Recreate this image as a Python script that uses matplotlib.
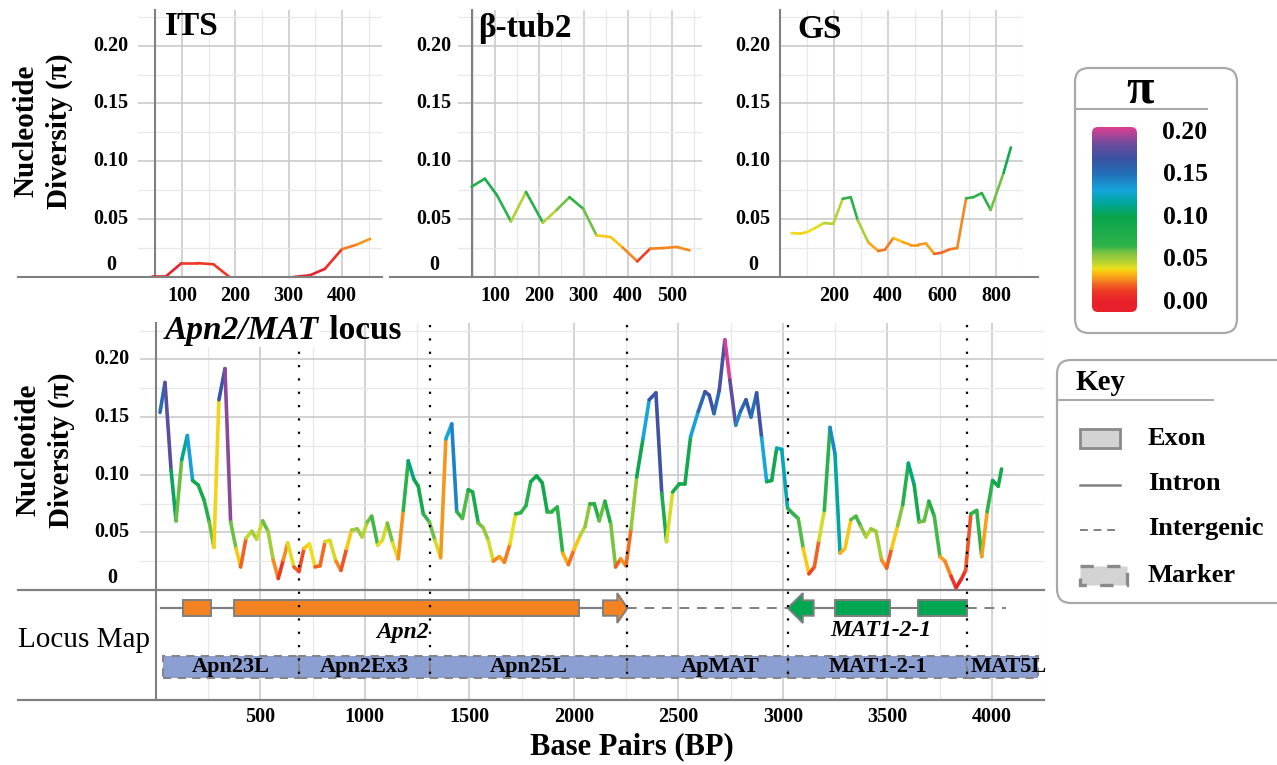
import numpy as np
import matplotlib
matplotlib.use("Agg")
import matplotlib.pyplot as plt
import matplotlib.transforms as mtrans
from matplotlib.collections import LineCollection
from matplotlib.colors import LinearSegmentedColormap, Normalize
from matplotlib.patches import Rectangle, FancyBboxPatch, Polygon
from matplotlib.lines import Line2D

plt.rcParams['font.family'] = ['Liberation Serif', 'DejaVu Serif']

# ---------------- data ----------------
its_bp = [43, 71, 99, 128, 159, 189, 219, 249, 279, 309, 340, 368, 400, 428, 453]
its_pi = [0.001, 0.001, 0.012, 0.012, 0.011, 0.0, 0.0, 0.0, 0.0, 0.0, 0.0015, 0.007, 0.024, 0.028, 0.033]

btub_bp = [47, 77, 104, 136, 170, 208, 239, 268, 299, 329, 361, 388, 421, 450, 480, 510, 539]
btub_pi = [0.078, 0.085, 0.071, 0.048, 0.0735, 0.047, 0.058, 0.069, 0.059, 0.036, 0.0345,
           0.0255, 0.0135, 0.0245, 0.025, 0.026, 0.023]

gs_bp = [42, 73, 100, 128, 162, 196, 231, 261, 287, 326, 363, 388, 419, 456, 481, 512, 540,
         571, 598, 629, 656, 689, 716, 747, 780, 828, 855]
gs_pi = [0.038, 0.0374, 0.0389, 0.0423, 0.0466, 0.046, 0.0676, 0.069, 0.049, 0.030, 0.0225,
         0.0236, 0.0337, 0.030, 0.028, 0.028, 0.029, 0.020, 0.021, 0.024, 0.025, 0.068, 0.069,
         0.0725, 0.058, 0.090, 0.112]

main_bp = [20, 44, 73, 97, 124, 151, 176, 203, 231, 256, 278, 302, 331, 358, 384, 406, 432, 459,
           483, 511, 537, 562, 586, 610, 631, 661, 685, 709, 735, 762, 786, 810, 833, 862, 886,
           913, 937, 964, 987, 1012, 1033, 1062, 1084, 1108, 1133, 1160, 1184, 1208, 1235, 1256,
           1280, 1309, 1336, 1363, 1388, 1416,
           1440, 1467, 1495, 1516, 1543, 1567, 1591, 1615, 1644, 1668, 1695, 1722, 1746, 1771,
           1794, 1822, 1849, 1873, 1894, 1921, 1947, 1974, 2001, 2030, 2054, 2077, 2098, 2122,
           2149, 2177, 2200, 2224, 2250, 2274, 2301, 2331, 2361, 2393, 2421, 2444, 2473, 2505,
           2532, 2559, 2596, 2628, 2648, 2671, 2696, 2723, 2747, 2775, 2798, 2824,
           2848, 2875, 2899, 2923, 2947, 2971, 2995, 3023, 3050, 3074, 3098, 3125, 3151, 3173,
           3199, 3226, 3250, 3274, 3298, 3326, 3350, 3374, 3398, 3422, 3446, 3473, 3497, 3521,
           3550, 3574, 3601, 3629, 3652, 3677, 3699, 3725, 3752, 3776, 3805, 3829, 3853, 3875,
           3900, 3928, 3952, 3978, 4004, 4031, 4047]
main_pi = [0.154, 0.180, 0.104, 0.060, 0.113, 0.134, 0.095, 0.091, 0.078, 0.059, 0.037, 0.165,
           0.192, 0.059, 0.036, 0.020, 0.045, 0.051, 0.044, 0.060, 0.051, 0.026, 0.010, 0.026,
           0.041, 0.020, 0.016, 0.036, 0.040, 0.020, 0.021, 0.042, 0.043, 0.025, 0.017, 0.036,
           0.052, 0.053, 0.046, 0.059, 0.064, 0.039, 0.043, 0.058, 0.041, 0.027, 0.069, 0.112,
           0.096, 0.090, 0.066, 0.059, 0.043, 0.028, 0.131, 0.144,
           0.068, 0.062, 0.087, 0.085, 0.058, 0.054, 0.043, 0.025, 0.029, 0.024, 0.040, 0.066,
           0.067, 0.073, 0.094, 0.099, 0.093, 0.068, 0.068, 0.072, 0.032, 0.022, 0.035, 0.047,
           0.055, 0.075, 0.075, 0.060, 0.077, 0.057, 0.020, 0.027, 0.021, 0.053, 0.098, 0.131,
           0.165, 0.171, 0.084, 0.042, 0.085, 0.092, 0.092, 0.133, 0.155, 0.172, 0.169, 0.153,
           0.173, 0.217, 0.182, 0.143, 0.155, 0.165,
           0.150, 0.171, 0.132, 0.094, 0.095, 0.123, 0.122, 0.071, 0.066, 0.062, 0.036, 0.014,
           0.020, 0.043, 0.069, 0.141, 0.118, 0.032, 0.036, 0.061, 0.064, 0.055, 0.046, 0.053,
           0.051, 0.026, 0.019, 0.036, 0.056, 0.074, 0.110, 0.091, 0.059, 0.060, 0.077, 0.064,
           0.029, 0.025, 0.012, 0.002, 0.009, 0.017, 0.066, 0.069, 0.029, 0.068, 0.095, 0.090,
           0.105]

# locus map
apn2_span = (27, 2140)             # intron line
apn2_exons = [(132, 265), (373, 2027)]
apn2_arrow = (2140, 2208, 2257)    # body start, head base, tip
intergenic = [(2257, 3024), (3880, 4069)]
mat_span = (3148, 3880)
mat_exons = [(3252, 3515), (3645, 3880)]
mat_arrow = (3148, 3096, 3024)
markers = ['Apn23L', 'Apn2Ex3', 'Apn25L', 'ApMAT', 'MAT1-2-1', 'MAT5L']
marker_bounds = [35, 685, 1312, 2253, 3026, 3883, 4222]

y_ticks = [0, 0.05, 0.10, 0.15, 0.20]
y_tick_labels = ['0', '0.05', '0.10', '0.15', '0.20']
cbar_ticks = [0.0, 0.05, 0.10, 0.15, 0.20]
cbar_labels = ['0.00', '0.05', '0.10', '0.15', '0.20']

# ---------------- colour scale ----------------
cm_vals = [0.0, 0.012, 0.020, 0.027, 0.034, 0.039, 0.046, 0.055, 0.066, 0.100, 0.117, 0.132,
           0.150, 0.168, 0.186, 0.205]
cm_cols = ['#e8202a', '#ee3a24', '#f26522', '#f7941d', '#fcc010', '#efe01b', '#b8d433',
           '#8dc63f', '#2fb34a', '#0aa54e', '#00a79b', '#16a5dd', '#2272b9', '#3953a4',
           '#6a4c9c', '#d73f94']
VMAX = 0.205
cmap = LinearSegmentedColormap.from_list('pi', list(zip(np.array(cm_vals) / VMAX, cm_cols)))
norm = Normalize(0, VMAX)

# ---------------- figure ----------------
W, H = 1277, 765
fig = plt.figure(figsize=(W / 100, H / 100), dpi=100)
fig.patch.set_facecolor('white')


def add_ax(l, t, r, b, **kw):
    return fig.add_axes([l / W, 1 - b / H, (r - l) / W, (b - t) / H], **kw)


over = fig.add_axes([0, 0, 1, 1], zorder=10)
over.set_xlim(0, W)
over.set_ylim(H, 0)
over.axis('off')
over.patch.set_visible(False)

SP_COL = '#808080'
GRID_MAJ = '#cbcbcb'
GRID_MIN = '#e8e8e8'
BOLD = dict(fontweight='bold', color='black')


def draw_series(ax, x, y, lw):
    x = np.asarray(x, float)
    y = np.asarray(y, float)
    pts = np.column_stack([x, y])
    segs = np.stack([pts[:-1], pts[1:]], axis=1)
    lc = LineCollection(segs, colors=cmap(norm(y[:-1])), linewidths=lw,
                        capstyle='round', joinstyle='round', zorder=3)
    ax.add_collection(lc)


def style_axes(ax, spine_x, xmaj, xmin, ymaj, ymin):
    ax.set_xticks(xmaj)
    ax.set_xticks(xmin, minor=True)
    ax.set_yticks(ymaj)
    ax.set_yticks(ymin, minor=True)
    ax.tick_params(which='both', length=0, labelbottom=False, labelleft=False)
    ax.grid(which='major', color=GRID_MAJ, lw=1.2)
    ax.grid(which='minor', color=GRID_MIN, lw=0.9)
    ax.set_axisbelow(True)
    for s in ['top', 'right', 'bottom']:
        ax.spines[s].set_visible(False)
    ax.spines['left'].set_position(('data', spine_x))
    ax.spines['left'].set_color(SP_COL)
    ax.spines['left'].set_linewidth(1.5)


def ytick_text(ax, cx, zero_shift_px, fs):
    tr = mtrans.blended_transform_factory(over.transData, ax.transData)
    for v, lab in zip(y_ticks, y_tick_labels):
        t = tr
        if v == 0:
            t = tr + mtrans.ScaledTranslation(0, zero_shift_px / 100, fig.dpi_scale_trans)
        ax.text(cx, v, lab, transform=t, ha='center', va='center', fontsize=fs, **BOLD)


def xtick_text(ax, vals, py, fs):
    tr = mtrans.blended_transform_factory(ax.transData, over.transData)
    for v in vals:
        ax.text(v, py, str(v), transform=tr, ha='center', va='center', fontsize=fs, **BOLD)


TOP_YMAX = (277 - 10) / 1157.0
ymaj = [0.05, 0.10, 0.15, 0.20]
ymin_top = [0.025, 0.075, 0.125, 0.175, 0.225]

# ---- top panels ----
top_specs = [
    (138, 382, (17.4, 475.2), 49, [100, 200, 300, 400], [50, 150, 250, 350, 450], 111,
     'ITS', 165, 35, its_bp, its_pi, [100, 200, 300, 400]),
    (458, 702, (16.5, 567.0), 48, [100, 200, 300, 400, 500], [50, 150, 250, 350, 450, 550], 434,
     'β-tub2', 478, 37, btub_bp, btub_pi, [100, 200, 300, 400, 500]),
    (780.4, 1023, (0, 900), 0, [200, 400, 600, 800], [100, 300, 500, 700, 900], 753,
     'GS', 797, 38, gs_bp, gs_pi, [200, 400, 600, 800]),
]
for (l, r, xl, spx, xmj, xmn, ycx, title, tx, tb, xs, ys, xlabs) in top_specs:
    ax = add_ax(l, 10, r, 277)
    ax.set_xlim(*xl)
    ax.set_ylim(0, TOP_YMAX)
    style_axes(ax, spx, xmj, xmn, ymaj, ymin_top)
    draw_series(ax, xs, ys, 1.9)
    ytick_text(ax, ycx, 12, 14.5)
    xtick_text(ax, xlabs, 296, 14.5)
    over.text(tx, tb, title, ha='left', va='baseline', fontsize=24, **BOLD)

over.add_line(Line2D([18, 382], [277, 277], color=SP_COL, lw=1.5))
over.add_line(Line2D([390, 1038], [277, 277], color=SP_COL, lw=1.5))

# ---- main panel ----
MAIN_L, MAIN_R = 140, 1044
px_per_bp = 0.209
x0_px = 155.8
main_xlim = ((MAIN_L - x0_px) / px_per_bp, (MAIN_R - x0_px) / px_per_bp)
axm = add_ax(MAIN_L, 323, MAIN_R, 590)
axm.set_xlim(*main_xlim)
axm.set_ylim(0, (590 - 323) / 1153.0)
style_axes(axm, 0, np.arange(500, 4001, 500), np.arange(250, 4251, 500), ymaj,
           [0.025, 0.075, 0.125, 0.175, 0.225])
draw_series(axm, main_bp, main_pi, 2.6)
ytick_text(axm, 112, 12, 14.5)

# ---- locus map ----
axl = add_ax(MAIN_L, 590, MAIN_R, 700)
axl.set_xlim(*main_xlim)
axl.set_ylim(0, 1)
style_axes(axl, 0, np.arange(500, 4001, 500), np.arange(250, 4251, 500), [], [])
axl.grid(False, axis='y', which='both')
xtick_text(axl, list(range(500, 4001, 500)), 717, 14.5)

GY = 0.836
HB = 0.07
HH = 0.136
EDGE = '#7f7f7f'
ORANGE = '#f58220'
GREEN = '#00a651'

axl.plot(apn2_span, [GY, GY], color=EDGE, lw=1.6, zorder=2)
axl.plot(mat_span, [GY, GY], color=EDGE, lw=1.6, zorder=2)
for a, b in intergenic:
    axl.plot([a, b], [GY, GY], color=EDGE, lw=1.4, ls=(0, (5, 4)), zorder=2)
for a, b in apn2_exons:
    axl.add_patch(Rectangle((a, GY - HB), b - a, 2 * HB, fc=ORANGE, ec=EDGE, lw=1.4, zorder=3))
for a, b in mat_exons:
    axl.add_patch(Rectangle((a, GY - HB), b - a, 2 * HB, fc=GREEN, ec=EDGE, lw=1.4, zorder=3))


def arrow_poly(x0, xb, tip, fc):
    pts = [(x0, GY - HB), (xb, GY - HB), (xb, GY - HH), (tip, GY), (xb, GY + HH),
           (xb, GY + HB), (x0, GY + HB)]
    axl.add_patch(Polygon(pts, closed=True, fc=fc, ec=EDGE, lw=1.4, zorder=3))


arrow_poly(*apn2_arrow, ORANGE)
arrow_poly(*mat_arrow, GREEN)
axl.text(1180, 0.618, 'Apn2', ha='center', va='center', fontsize=17, fontstyle='italic', **BOLD)
axl.text(3472, 0.636, 'MAT1-2-1', ha='center', va='center', fontsize=17, fontstyle='italic', **BOLD)

label_x = [None, None, None, 2700, None, None]
for i, name in enumerate(markers):
    a, b = marker_bounds[i], marker_bounds[i + 1]
    axl.add_patch(Rectangle((a, 0.2), b - a, 0.2, fc='#8b9fd3', ec='#858585', lw=1.5,
                            ls=(0, (4, 3)), zorder=3))
    if name == 'MAT5L':
        axl.text(a + 18, 0.30, name, ha='left', va='center', fontsize=16, zorder=4, **BOLD)
    else:
        cx = label_x[i] if label_x[i] is not None else (a + b) / 2
        axl.text(cx, 0.30, name, ha='center', va='center', fontsize=16, zorder=4, **BOLD)

over.add_line(Line2D([18, 1044], [590, 590], color=SP_COL, lw=1.6))
over.add_line(Line2D([18, 1044], [700, 700], color=SP_COL, lw=1.6))

# dotted separators between markers
trd = mtrans.blended_transform_factory(axm.transData, over.transData)
for b in marker_bounds[1:-1]:
    over.add_artist(Line2D([b, b], [325, 678], transform=trd, color='black', lw=1.6,
                           ls=(0, (1, 5)), dash_capstyle='butt', zorder=4))

# main title with white background (covers dotted line)
t1 = over.text(165, 339, 'Apn2/MAT', ha='left', va='baseline', fontsize=24, fontstyle='italic',
               zorder=6, bbox=dict(fc='white', ec='none', pad=1), **BOLD)
fig.canvas.draw()
bb = t1.get_window_extent(renderer=fig.canvas.get_renderer())
over.text(bb.x1 + 2, 339, ' locus', ha='left', va='baseline', fontsize=24, zorder=6, **BOLD)

# axis titles
over.text(43, 131, 'Nucleotide\nDiversity (π)', rotation=90, ha='center', va='center',
          multialignment='center', linespacing=1.3, fontsize=21, **BOLD)
over.text(45, 450, 'Nucleotide\nDiversity (π)', rotation=90, ha='center', va='center',
          multialignment='center', linespacing=1.3, fontsize=21, **BOLD)
over.text(18, 640, 'Locus Map', ha='left', va='center', fontsize=21, color='black')
over.text(632, 747, 'Base Pairs (BP)', ha='center', va='center', fontsize=22, **BOLD)

# ---- colour legend ----
BOX_EC = '#a9a9a9'
over.add_patch(FancyBboxPatch((1075, 68), 162, 265, boxstyle='round,pad=0,rounding_size=14',
                              fc='white', ec=BOX_EC, lw=1.6, zorder=1))
over.add_line(Line2D([1075, 1207], [109, 109], color=BOX_EC, lw=1.5))
over.text(1140, 90, 'π', ha='center', va='center', fontsize=36, **BOLD)
cb_top, cb_bot = 127, 312
lab_y0, lab_y20 = 302, 132


def val_to_cb_y(v):
    return lab_y0 - v / 0.20 * (lab_y0 - lab_y20)


grad_vals = np.linspace(0.20 * (lab_y0 - cb_top) / (lab_y0 - lab_y20),
                        0.20 * (lab_y0 - cb_bot) / (lab_y0 - lab_y20), 256)
im = over.imshow(grad_vals[:, None], cmap=cmap, norm=norm, aspect='auto',
                 extent=(1092, 1137, cb_bot, cb_top), origin='upper', zorder=2,
                 interpolation='bilinear')
clip = FancyBboxPatch((1092, cb_top), 45, cb_bot - cb_top, boxstyle='round,pad=0,rounding_size=6',
                      fc='none', ec='none', transform=over.transData)
over.add_patch(clip)
im.set_clip_path(clip)
for v, lab in zip(cbar_ticks, cbar_labels):
    over.text(1185, val_to_cb_y(v), lab, ha='center', va='center', fontsize=18.5, **BOLD)

# ---- key legend ----
over.add_patch(FancyBboxPatch((1057, 360), 260, 243, boxstyle='round,pad=0,rounding_size=14',
                              fc='white', ec=BOX_EC, lw=1.6, zorder=1))
over.add_line(Line2D([1057, 1213], [400, 400], color=BOX_EC, lw=1.5))
over.text(1075, 382, 'Key', ha='left', va='center', fontsize=21, **BOLD)
over.add_patch(Rectangle((1080, 429), 40, 19, fc='#d3d3d3', ec='#8a8a8a', lw=2, zorder=3))
over.add_line(Line2D([1080, 1120], [485, 485], color=SP_COL, lw=1.8))
over.add_line(Line2D([1080, 1120], [530, 530], color=SP_COL, lw=1.4, ls=(0, (4, 3))))
over.add_patch(Rectangle((1080, 566), 47, 19, fc='#d3d3d3', ec='#8a8a8a', lw=2.4,
                         ls=(0, (4, 4)), zorder=3))
for txt, yy in [('Exon', 438), ('Intron', 483), ('Intergenic', 528), ('Marker', 575)]:
    over.text(1148, yy, txt, ha='left', va='center', fontsize=19, **BOLD)

fig.savefig('out.png', dpi=100, facecolor='white')
